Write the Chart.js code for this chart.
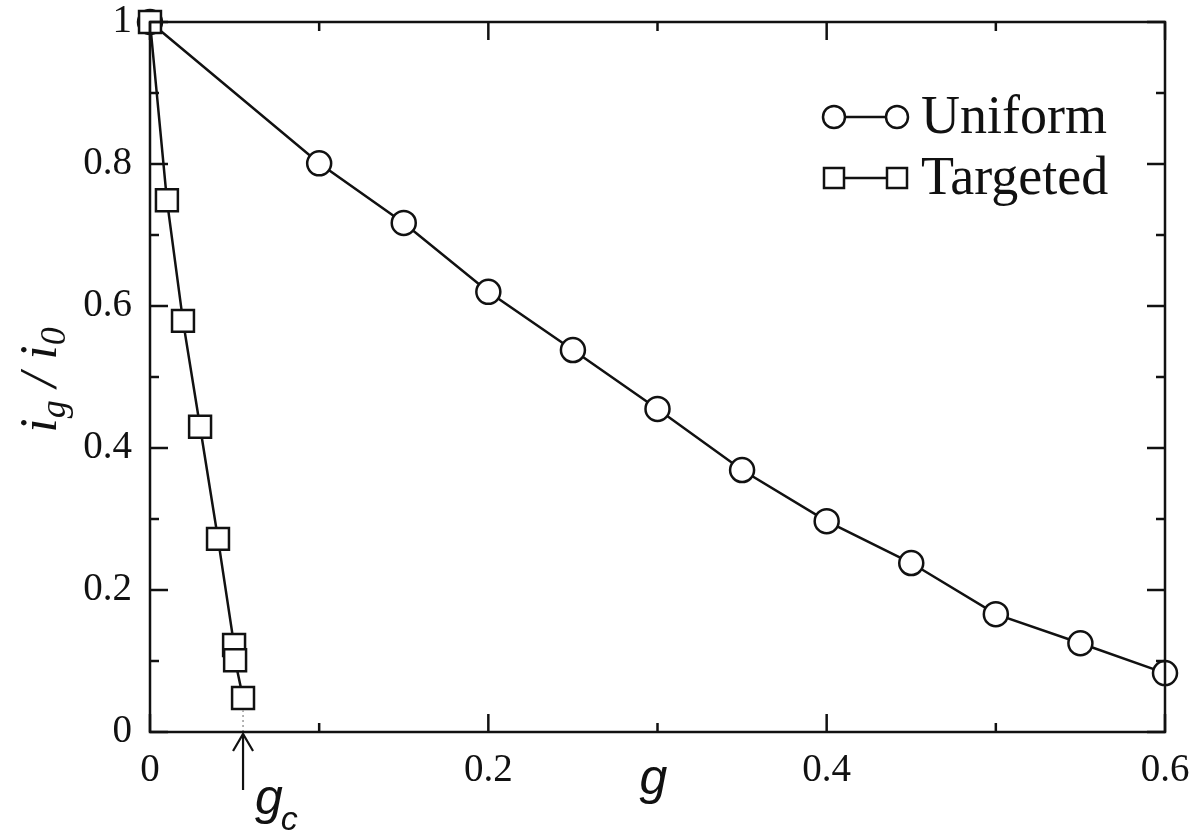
<!DOCTYPE html>
<html>
<head>
<meta charset="utf-8">
<script src="https://cdn.jsdelivr.net/npm/chart.js@4.4.1/dist/chart.umd.min.js"></script>
<style>
  html, body { margin: 0; padding: 0; background: #fff; }
  #wrap { width: 1196px; height: 836px; position: relative; }
</style>
</head>
<body>
<div id="wrap"><canvas id="c"></canvas></div>
<script>
// Uniform removal: fraction i_g / i_0 versus fraction g
const uniformG = [0, 0.1, 0.15, 0.2, 0.25, 0.3, 0.35, 0.4, 0.45, 0.5, 0.55, 0.6];
const uniformI = [1.0, 0.801, 0.717, 0.620, 0.538, 0.455, 0.369, 0.297, 0.238, 0.166, 0.125, 0.083];

// Targeted removal
const targetedG = [0, 0.010, 0.0195, 0.0296, 0.0402, 0.0497, 0.0503, 0.0550];
const targetedI = [1.0, 0.749, 0.579, 0.430, 0.272, 0.1225, 0.101, 0.048];

// Critical fraction marked on the g axis
const gCritical = 0.0550;

// Axis ticks
const xMajorTicks = [0, 0.2, 0.4, 0.6];
const xMinorTicks = [0.1, 0.3, 0.5];
const yMajorTicks = [0, 0.2, 0.4, 0.6, 0.8, 1];
const yMinorTicks = [0.1, 0.3, 0.5, 0.7, 0.9];
const xTickLabels = ['0', '0.2', '0.4', '0.6'];
const yTickLabels = ['0', '0.2', '0.4', '0.6', '0.8', '1'];

const seriesNames = ['Uniform', 'Targeted'];

const INK = '#111';
const SERIF = '"Liberation Serif", "Times New Roman", serif';
const SANS = '"Liberation Sans", Arial, sans-serif';

function toPoints(xs, ys) { return xs.map((v, i) => ({ x: v, y: ys[i] })); }

function line(ctx, x1, y1, x2, y2) {
  ctx.beginPath(); ctx.moveTo(x1, y1); ctx.lineTo(x2, y2); ctx.stroke();
}

// Box frame with inward ticks on all four sides, plus the g_c marker and axis titles
const framePlugin = {
  id: 'frame',
  afterDatasetsDraw(chart) {
    const { ctx, chartArea: { left, right, top, bottom }, scales: { x, y } } = chart;
    ctx.save();
    ctx.strokeStyle = INK;
    ctx.lineCap = 'butt';

    // dotted guide from the last targeted point down to the axis
    const gx = x.getPixelForValue(gCritical);
    const lastY = y.getPixelForValue(targetedI[targetedI.length - 1]);
    ctx.save();
    ctx.strokeStyle = '#9a9a9a';
    ctx.lineWidth = 1.5;
    ctx.setLineDash([2, 3]);
    line(ctx, gx, lastY + 12, gx, bottom);
    ctx.restore();

    ctx.lineWidth = 2.5;
    ctx.strokeRect(left, top, right - left, bottom - top);

    const MAJ = 18, MIN = 9;
    xMajorTicks.forEach(v => {
      const p = x.getPixelForValue(v);
      line(ctx, p, bottom, p, bottom - MAJ);
      line(ctx, p, top, p, top + MAJ);
    });
    xMinorTicks.forEach(v => {
      const p = x.getPixelForValue(v);
      line(ctx, p, bottom, p, bottom - MIN);
      line(ctx, p, top, p, top + MIN);
    });
    yMajorTicks.forEach(v => {
      const p = y.getPixelForValue(v);
      line(ctx, left, p, left + MAJ, p);
      line(ctx, right, p, right - MAJ, p);
    });
    yMinorTicks.forEach(v => {
      const p = y.getPixelForValue(v);
      line(ctx, left, p, left + MIN, p);
      line(ctx, right, p, right - MIN, p);
    });

    // arrow pointing up at g_c
    ctx.lineWidth = 2.2;
    const tip = bottom + 2;
    line(ctx, gx, tip, gx, 790);
    ctx.beginPath();
    ctx.moveTo(gx - 10, tip + 17);
    ctx.lineTo(gx, tip);
    ctx.lineTo(gx + 10, tip + 17);
    ctx.stroke();

    ctx.fillStyle = INK;
    ctx.textAlign = 'left';
    ctx.textBaseline = 'alphabetic';

    // g_c label
    ctx.font = 'italic 50px ' + SANS;
    const gW = ctx.measureText('g').width;
    const gcX = gx + 12;
    ctx.fillText('g', gcX, 814);
    ctx.font = 'italic 34px ' + SANS;
    ctx.fillText('c', gcX + gW - 2, 830);

    // x axis title
    ctx.font = 'italic 50px ' + SANS;
    ctx.textAlign = 'center';
    ctx.fillText('g', (left + right) / 2 - 4, 794);

    // y axis title  i_g / i_0 (rotated)
    ctx.textAlign = 'left';
    const big = 'italic 52px ' + SERIF;
    const sub = 'italic 36px ' + SERIF;
    const parts = [
      { t: 'i', f: big, dy: 0 },
      { t: 'g', f: sub, dy: 9 },
      { t: ' / ', f: big, dy: 0 },
      { t: 'i', f: big, dy: 0 },
      { t: '0', f: sub, dy: 9 }
    ];
    let total = 0;
    parts.forEach(p => { ctx.font = p.f; p.w = ctx.measureText(p.t).width; total += p.w; });
    ctx.save();
    ctx.translate(56, 380 + total / 2);
    ctx.rotate(-Math.PI / 2);
    let cx = 0;
    parts.forEach(p => { ctx.font = p.f; ctx.fillText(p.t, cx, p.dy); cx += p.w; });
    ctx.restore();

    // legend: marker-line-marker followed by series name
    const rows = [
      { name: seriesNames[0], y: 117, style: 'circle' },
      { name: seriesNames[1], y: 178, style: 'rect' }
    ];
    ctx.font = '54px ' + SERIF;
    ctx.lineWidth = 2.5;
    rows.forEach(r => {
      const x1 = 834, x2 = 897;
      line(ctx, x1, r.y, x2, r.y);
      [x1, x2].forEach(mx => {
        ctx.beginPath();
        if (r.style === 'circle') ctx.arc(mx, r.y, 11, 0, Math.PI * 2);
        else ctx.rect(mx - 10, r.y - 10, 20, 20);
        ctx.fillStyle = '#fff';
        ctx.fill();
        ctx.stroke();
      });
      ctx.fillStyle = INK;
      ctx.textAlign = 'left';
      ctx.fillText(r.name, 921, r.y + 16);
    });
    ctx.restore();
  }
};

new Chart(document.getElementById('c'), {
  type: 'line',
  data: {
    datasets: [
      {
        label: seriesNames[1],
        data: toPoints(targetedG, targetedI),
        borderColor: INK,
        borderWidth: 2.5,
        pointStyle: 'rect',
        pointRadius: 15.5,
        pointBorderWidth: 2.5,
        pointBackgroundColor: '#fff',
        pointBorderColor: INK,
        tension: 0,
        clip: false
      },
      {
        label: seriesNames[0],
        data: toPoints(uniformG, uniformI),
        borderColor: INK,
        borderWidth: 2.5,
        pointStyle: 'circle',
        pointRadius: 12,
        pointBorderWidth: 2.5,
        pointBackgroundColor: '#fff',
        pointBorderColor: INK,
        tension: 0,
        clip: false
      }
    ]
  },
  options: {
    responsive: true,
    maintainAspectRatio: false,
    animation: false,
    events: [],
    layout: { padding: { left: 0, right: 31, top: 22, bottom: 0 } },
    plugins: { legend: { display: false }, tooltip: { enabled: false }, title: { display: false } },
    scales: {
      x: {
        type: 'linear',
        min: 0, max: 0.6,
        grid: { display: false },
        border: { display: false },
        afterBuildTicks: s => { s.ticks = xMajorTicks.map(v => ({ value: v })); },
        afterFit: s => { s.height = 104; s.paddingLeft = 0; s.paddingRight = 0; },
        ticks: {
          autoSkip: false,
          maxRotation: 0,
          padding: 7,
          color: INK,
          font: { family: SERIF, size: 39 },
          callback: (v) => xTickLabels[xMajorTicks.indexOf(v)] ?? ''
        }
      },
      y: {
        type: 'linear',
        min: 0, max: 1,
        grid: { display: false },
        border: { display: false },
        afterBuildTicks: s => { s.ticks = yMajorTicks.map(v => ({ value: v })); },
        afterFit: s => { s.width = 150; s.paddingTop = 0; s.paddingBottom = 0; },
        ticks: {
          autoSkip: false,
          padding: 10,
          color: INK,
          font: { family: SERIF, size: 39 },
          callback: (v) => yTickLabels[yMajorTicks.indexOf(v)] ?? ''
        }
      }
    }
  },
  plugins: [framePlugin]
});
</script>
</body>
</html>
